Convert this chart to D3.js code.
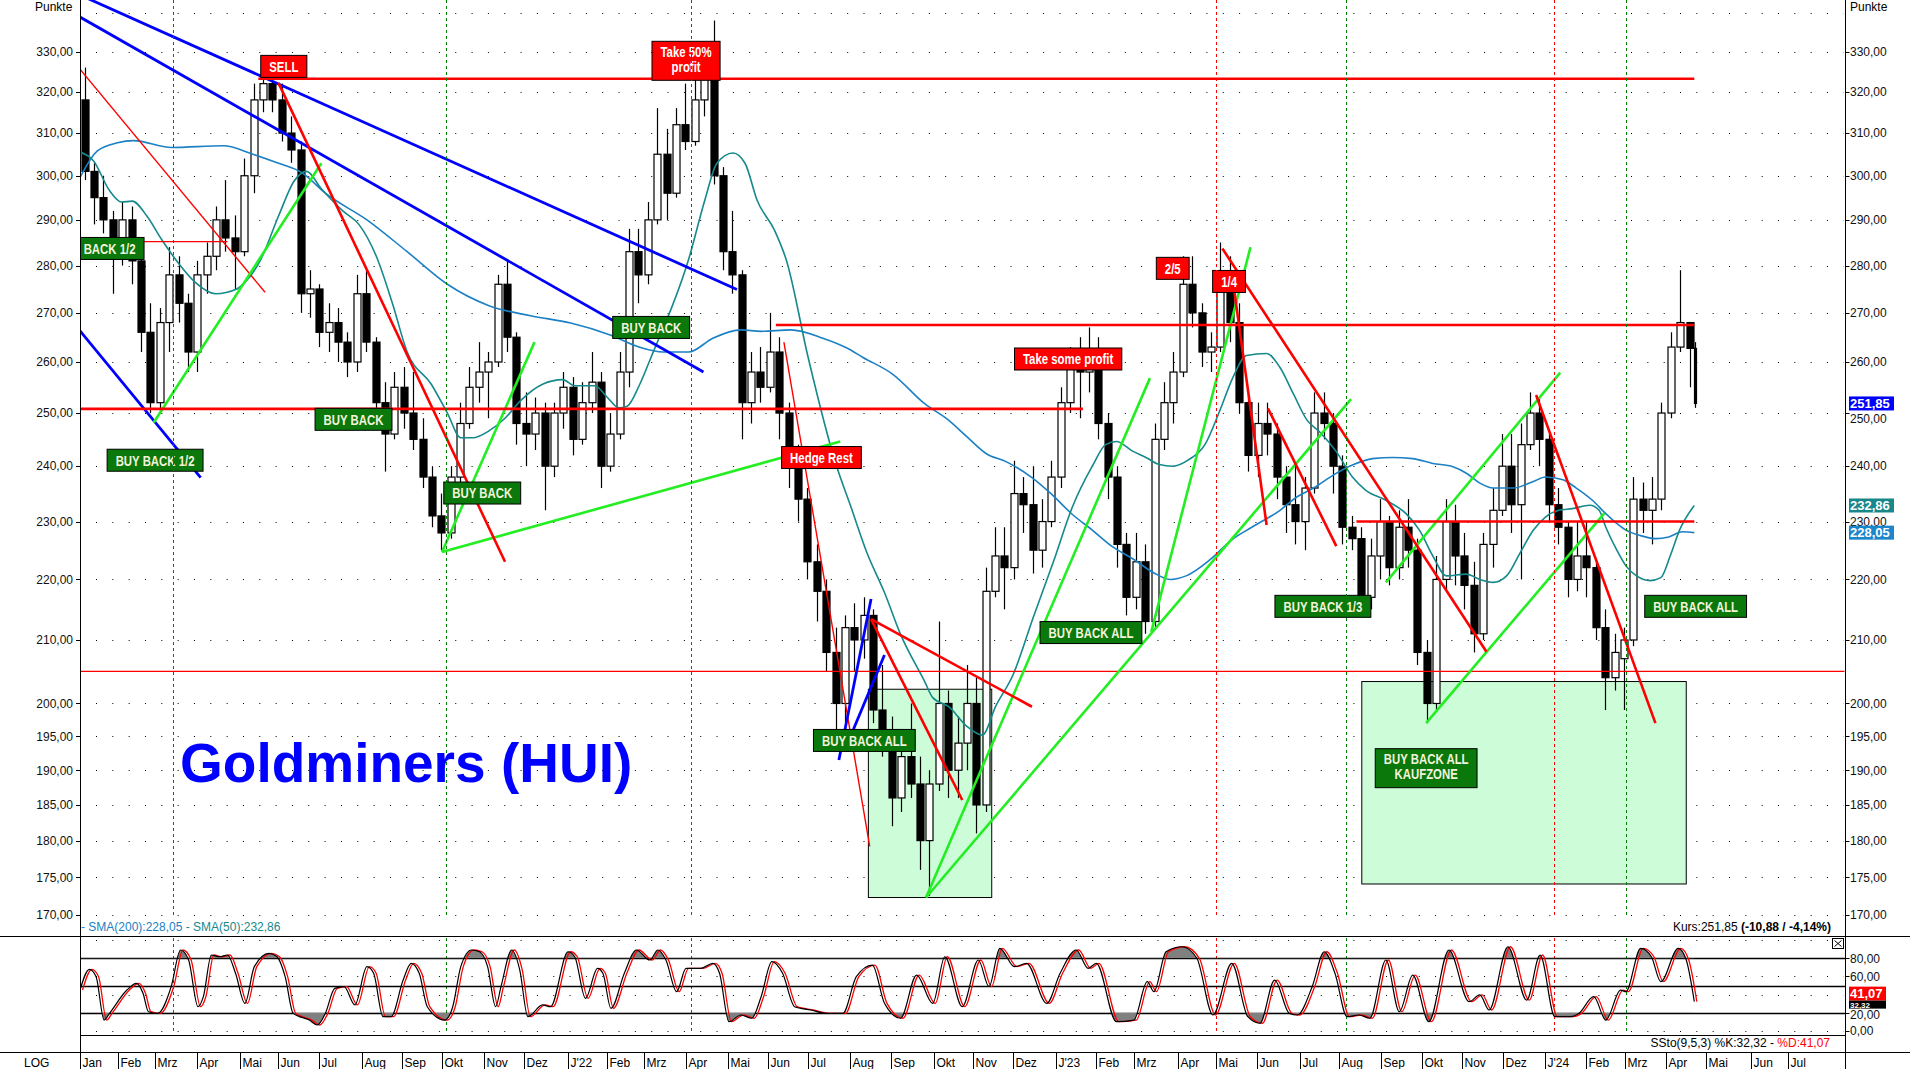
<!DOCTYPE html>
<html><head><meta charset="utf-8">
<script src="https://cdn.jsdelivr.net/npm/d3@7"></script>
<style>
html,body{margin:0;padding:0;background:#fff;overflow:hidden;}
svg{display:block;}
text{font-family:"Liberation Sans",Arial,Helvetica,sans-serif;}
</style></head><body>
<svg id="c" width="1910" height="1069"></svg>
<script>
// ---------------- DATA ----------------
// weekly candles: [week start, open, high, low, close]
const candles = [
["2021-01-04",318,326,299,301],["2021-01-11",301,303,289,295],["2021-01-18",295,300,287,290],["2021-01-25",290,292,274,282],
["2021-02-01",282,294,280,290],["2021-02-08",290,293,276,281],["2021-02-15",281,283,262,266],["2021-02-22",266,272,250,252],
["2021-03-01",252,271,250,268],["2021-03-08",268,284,262,278],["2021-03-15",278,282,268,272],["2021-03-22",272,274,258,262],
["2021-03-29",262,281,258,278],["2021-04-05",278,285,274,282],["2021-04-12",282,293,279,290],["2021-04-19",290,299,283,286],
["2021-04-26",286,291,275,283],["2021-05-03",283,304,282,300],["2021-05-10",300,322,296,318],["2021-05-17",318,325,315,322],
["2021-05-24",322,324,315,318],["2021-05-31",318,322,308,310],["2021-06-07",310,314,303,306],["2021-06-14",306,308,270,274],
["2021-06-21",274,279,269,275],["2021-06-28",275,276,263,266],["2021-07-05",266,272,262,268],["2021-07-12",268,271,260,264],
["2021-07-19",264,266,257,260],["2021-07-26",260,278,258,274],["2021-08-02",274,279,262,264],["2021-08-09",264,265,249,252],
["2021-08-16",252,256,239,246],["2021-08-23",246,258,245,255],["2021-08-30",255,259,247,250],["2021-09-06",250,258,243,245],
["2021-09-13",245,249,236,238],["2021-09-20",238,240,229,231],["2021-09-27",231,235,225,228],["2021-10-04",228,240,227,238],
["2021-10-11",238,252,236,248],["2021-10-18",248,259,247,255],["2021-10-25",255,264,252,258],["2021-11-01",258,262,249,260],
["2021-11-08",260,278,259,276],["2021-11-15",276,281,262,265],["2021-11-22",265,266,244,248],["2021-11-29",248,254,240,246],
["2021-12-06",246,253,243,250],["2021-12-13",250,252,232,240],["2021-12-20",240,252,238,250],["2021-12-27",250,258,247,255],
["2022-01-03",255,257,242,245],["2022-01-10",245,256,244,252],["2022-01-17",252,262,250,256],["2022-01-24",256,258,236,240],
["2022-01-31",240,250,239,246],["2022-02-07",246,262,245,258],["2022-02-14",258,288,255,283],["2022-02-21",283,288,272,278],
["2022-02-28",278,294,276,290],["2022-03-07",290,316,289,305],["2022-03-14",305,311,290,296],["2022-03-21",296,316,295,312],
["2022-03-28",312,322,306,308],["2022-04-04",308,323,307,318],["2022-04-11",318,330,314,326],["2022-04-18",326,338,298,300],
["2022-04-25",300,302,279,283],["2022-05-02",283,292,274,278],["2022-05-09",278,279,245,252],["2022-05-16",252,262,248,258],
["2022-05-23",258,263,252,255],["2022-05-30",255,270,254,262],["2022-06-06",262,265,245,250],["2022-06-13",250,252,236,240],
["2022-06-20",240,244,230,234],["2022-06-27",234,236,220,223],["2022-07-04",223,226,213,218],["2022-07-11",218,220,205,208],
["2022-07-18",208,212,196,200],["2022-07-25",200,214,197,212],["2022-08-01",212,216,205,210],["2022-08-08",210,217,207,214],
["2022-08-15",214,215,197,199],["2022-08-22",199,206,192,196],["2022-08-29",196,198,182,186],["2022-09-05",186,195,184,192],
["2022-09-12",192,200,186,188],["2022-09-19",188,192,176,180],["2022-09-26",180,190,172.5,188],["2022-10-03",188,213,187,200],
["2022-10-10",200,202,186,190],["2022-10-17",190,198,186,194],["2022-10-24",194,206,190,200],["2022-10-31",200,204,181,185],
["2022-11-07",185,222,184,218],["2022-11-14",218,229,217,224],["2022-11-21",224,229,215,222],["2022-11-28",222,241,220,235],
["2022-12-05",235,238,228,233],["2022-12-12",233,240,221,225],["2022-12-19",225,234,222,230],["2022-12-26",230,241,229,238],
["2023-01-02",238,255,236,252],["2023-01-09",252,263,250,260],["2023-01-16",260,265,249,258],["2023-01-23",258,267,254,262],
["2023-01-30",262,265,245,248],["2023-02-06",248,250,234,238],["2023-02-13",238,240,222,226],["2023-02-20",226,228,214,217],
["2023-02-27",217,228,215,223],["2023-03-06",223,226,211,213],["2023-03-13",213,248,212,245],["2023-03-20",245,256,243,252],
["2023-03-27",252,262,248,258],["2023-04-03",258,282,257,276],["2023-04-10",276,282,267,270],["2023-04-17",270,272,259,262],
["2023-04-24",262,266,258,263],["2023-05-01",263,285,262,278],["2023-05-08",278,282,264,268],["2023-05-15",268,272,250,252],
["2023-05-22",252,254,239,242],["2023-05-29",242,252,238,248],["2023-06-05",248,252,242,246],["2023-06-12",246,248,234,238],
["2023-06-19",238,240,228,233],["2023-06-26",233,240,226,230],["2023-07-03",230,238,225,236],["2023-07-10",236,254,235,250],
["2023-07-17",250,254,245,248],["2023-07-24",248,250,235,240],["2023-07-31",240,242,226,229],["2023-08-07",229,231,225,227],
["2023-08-14",227,229,214,217],["2023-08-21",217,227,215,224],["2023-08-28",224,234,220,230],["2023-09-04",230,231,219,222],
["2023-09-11",222,232,220,229],["2023-09-18",229,234,222,225],["2023-09-25",225,227,206,208],["2023-10-02",208,210,197,200],
["2023-10-09",200,224,199,220],["2023-10-16",220,234,218,230],["2023-10-23",230,233,219,224],["2023-10-30",224,228,215,219],
["2023-11-06",219,223,208,211],["2023-11-13",211,228,210,226],["2023-11-20",226,236,222,232],["2023-11-27",232,246,231,240],
["2023-12-04",240,246,228,233],["2023-12-11",233,248,220,244],["2023-12-18",244,254,243,250],["2023-12-25",250,253,240,245],
["2024-01-01",245,246,230,233],["2024-01-08",233,236,226,229],["2024-01-15",229,230,217,220],["2024-01-22",220,230,218,224],
["2024-01-29",224,230,217,222],["2024-02-05",222,223,210,212],["2024-02-12",212,215,199,204],["2024-02-19",204,211,202,208],
["2024-02-26",207,212,199,210],["2024-03-04",210,238,209,234],["2024-03-11",234,237,228,232],["2024-03-18",232,238,226,234],
["2024-03-25",234,252,232,250],["2024-04-01",250,266,249,263],["2024-04-08",263,279,262,268],["2024-04-15",268,268,255,262.73],
["2024-04-22",262.73,264,251,251.85]
];

const sma50 = [
["2021-01-04",305.5],["2021-01-14",303.5],["2021-01-26",296.6],["2021-02-04",294],["2021-02-12",294.2],["2021-02-23",290.8],
["2021-03-06",285.6],["2021-03-19",280.3],["2021-03-31",276.4],["2021-04-15",274],["2021-05-01",275],["2021-05-07",276.4],
["2021-05-19",281.4],["2021-06-01",290.8],["2021-06-13",298.9],["2021-06-22",301],["2021-07-03",297],["2021-07-19",292],
["2021-07-31",289],["2021-08-13",282],["2021-08-25",272],["2021-09-05",262],["2021-09-23",255.6],["2021-10-05",250],
["2021-10-15",245.3],["2021-10-24",245.3],["2021-11-05",246.6],["2021-11-17",249],["2021-11-29",252.5],["2021-12-15",255.6],
["2021-12-30",256.5],["2022-01-08",255.3],["2022-01-23",255.3],["2022-02-01",253.1],["2022-02-10",251],["2022-02-16",251.3],
["2022-02-25",255.3],["2022-03-06",261],["2022-04-03",281.4],["2022-04-15",294.4],["2022-04-24",302.9],["2022-05-06",305.3],
["2022-05-15",302.9],["2022-05-24",294.4],["2022-06-06",287.7],["2022-06-15",281],["2022-07-01",261],["2022-07-22",240.2],
["2022-08-02",232.6],["2022-08-14",224.5],["2022-08-27",217.8],["2022-09-08",210.9],["2022-09-26",203.4],["2022-10-02",200.9],
["2022-10-14",199.5],["2022-10-27",196.6],["2022-11-08",195.2],["2022-11-18",199.6],["2022-12-01",204.5],["2022-12-16",213.7],
["2022-12-31",223],["2023-01-14",232.5],["2023-01-29",240],["2023-02-08",244],["2023-02-16",244.6],["2023-02-28",242.8],
["2023-03-10",241.6],["2023-03-20",240.3],["2023-03-30",240],["2023-04-11",241.2],["2023-04-23",244],["2023-05-04",250.4],
["2023-05-14",257],["2023-05-24",261.3],["2023-06-08",261.7],["2023-06-18",258.9],["2023-06-28",253.7],["2023-07-08",248.7],
["2023-07-18",246.3],["2023-07-30",242.7],["2023-08-11",238],["2023-08-21",235.6],["2023-09-05",233.8],["2023-09-20",231.4],
["2023-09-30",228.5],["2023-10-10",224],["2023-10-20",220.6],["2023-11-04",220.9],["2023-11-14",220],["2023-11-24",219.5],
["2023-12-04",220.6],["2023-12-14",224.5],["2023-12-24",228.5],["2024-01-02",230.8],["2024-01-12",232],["2024-01-22",232.3],
["2024-02-04",232.9],["2024-02-11",232],["2024-02-16",229],["2024-02-24",225.1],["2024-03-02",222.3],["2024-03-10",220.6],
["2024-03-20",219.8],["2024-03-28",220.3],["2024-04-04",224],["2024-04-11",228.5],["2024-04-22",232.86]
];

const sma200 = [
["2021-01-04",299.6],["2021-01-17",305.8],["2021-02-01",307.7],["2021-02-13",308.2],["2021-03-13",306.6],["2021-04-21",307],
["2021-05-13",305],["2021-05-31",303],["2021-06-19",300.6],["2021-07-06",296],["2021-08-06",290],["2021-09-05",283],
["2021-10-05",276],["2021-11-05",271.5],["2021-12-06",269.4],["2022-01-05",267.9],["2022-02-04",265.4],["2022-02-25",263],
["2022-03-15",262],["2022-04-03",262],["2022-04-21",264.8],["2022-05-12",266.5],["2022-05-27",266.2],["2022-06-18",266.5],
["2022-07-12",264.8],["2022-07-30",262.8],["2022-08-11",260.9],["2022-09-02",257.6],["2022-09-26",251.8],["2022-10-14",248.6],
["2022-10-27",245.6],["2022-11-11",242.3],["2022-11-26",240.8],["2022-12-15",237.9],["2022-12-30",234.8],["2023-01-14",231.3],
["2023-01-29",228.5],["2023-02-13",225.6],["2023-03-01",223.4],["2023-03-16",221.1],["2023-03-28",220],["2023-04-09",220.6],
["2023-04-27",223.4],["2023-05-13",226.8],["2023-05-28",229],["2023-06-18",232],["2023-06-30",234.3],["2023-07-13",236],
["2023-07-28",238.4],["2023-08-11",240.2],["2023-08-26",241.4],["2023-09-10",241.6],["2023-09-25",241.4],["2023-10-10",240.5],
["2023-10-25",239.9],["2023-11-04",238.7],["2023-11-14",236.9],["2023-11-24",236],["2023-12-09",236],["2023-12-24",237.2],
["2024-01-02",238],["2024-01-15",237.5],["2024-01-25",236],["2024-02-06",233.8],["2024-02-16",231.4],["2024-02-23",229.9],
["2024-03-02",228.5],["2024-03-12",227.6],["2024-03-24",227],["2024-04-03",227.3],["2024-04-13",228.2],["2024-04-22",228.05]
];

// Slow stochastic %K (9,5,3)
const stochK = [
["2021-01-04",45],["2021-01-11",67.8],["2021-01-16",59.7],["2021-01-22",12],["2021-01-26",19.4],["2021-02-08",45],
["2021-02-15",52.4],["2021-02-20",41.4],["2021-02-24",21.2],["2021-03-03",19.4],["2021-03-13",48.7],["2021-03-20",89],
["2021-03-26",78],["2021-04-02",26.7],["2021-04-06",37.7],["2021-04-12",83.5],["2021-04-18",81.6],["2021-04-24",83.5],
["2021-04-30",63.4],["2021-05-07",30.4],["2021-05-14",70.7],["2021-05-25",85.4],["2021-05-31",81.6],["2021-06-06",59.7],
["2021-06-12",19.4],["2021-06-24",12],["2021-06-30",6.6],["2021-07-06",19.4],["2021-07-13",46.9],["2021-07-20",48.7],
["2021-07-28",28.6],["2021-08-06",70.7],["2021-08-11",63.4],["2021-08-18",15.7],["2021-08-24",15.7],["2021-09-02",56],
["2021-09-08",74.4],["2021-09-14",63.4],["2021-09-20",26.7],["2021-10-03",12],["2021-10-09",26.7],["2021-10-15",70.7],
["2021-10-23",89],["2021-10-29",87.1],["2021-11-04",70.7],["2021-11-10",26.7],["2021-11-14",48.7],["2021-11-22",89],
["2021-11-28",67],["2021-12-04",15.7],["2021-12-15",28.6],["2021-12-21",26.7],["2022-01-03",87.1],["2022-01-08",81.6],
["2022-01-16",35.9],["2022-01-25",68.9],["2022-01-29",63.4],["2022-02-04",24.9],["2022-02-14",63.4],["2022-02-23",89],
["2022-03-05",78],["2022-03-11",89],["2022-03-17",78],["2022-03-25",43.2],["2022-04-01",68.9],["2022-04-12",68.9],
["2022-04-21",74.4],["2022-04-26",63.4],["2022-05-03",10.2],["2022-05-12",17.6],["2022-05-20",14],["2022-05-27",37.7],
["2022-06-04",76.2],["2022-06-12",63.4],["2022-06-21",26.7],["2022-07-03",23.1],["2022-07-15",19.4],["2022-07-27",19.4],
["2022-08-06",59.7],["2022-08-18",72.5],["2022-08-27",30.4],["2022-09-08",14],["2022-09-20",61.5],["2022-10-02",30.4],
["2022-10-11",81.6],["2022-10-24",26.7],["2022-11-05",78],["2022-11-13",48.7],["2022-11-21",90.9],["2022-12-02",70.7],
["2022-12-11",74.4],["2022-12-26",30.4],["2023-01-05",63.4],["2023-01-17",89],["2023-01-26",68.9],["2023-02-01",74.4],
["2023-02-16",10.2],["2023-03-01",12],["2023-03-11",54.2],["2023-03-16",43.2],["2023-03-25",87.1],["2023-04-06",92.6],
["2023-04-17",79.9],["2023-04-29",17.6],["2023-05-13",74.4],["2023-05-25",15.7],["2023-06-03",8.5],["2023-06-14",56],
["2023-06-25",19.4],["2023-07-01",17.6],["2023-07-12",48.7],["2023-07-21",87.1],["2023-07-29",63.4],["2023-08-07",15.7],
["2023-08-16",17.6],["2023-08-24",14],["2023-09-05",78],["2023-09-15",21.2],["2023-09-25",61.5],["2023-10-07",10.2],
["2023-10-22",89],["2023-11-06",32.2],["2023-11-14",39.6],["2023-11-21",23.1],["2023-12-05",92.6],["2023-12-19",34],
["2023-12-29",83.5],["2024-01-09",15.7],["2024-01-21",15.7],["2024-01-27",19.4],["2024-02-07",37.7],["2024-02-16",12],
["2024-02-27",45],["2024-03-02",43.2],["2024-03-13",90.9],["2024-03-21",81.6],["2024-03-28",54.2],["2024-04-10",90.9],
["2024-04-16",78],["2024-04-22",32.32]
];

// axis tick values / labels
const priceTicks = [330,320,310,300,290,280,270,260,250,240,230,220,210,200,195,190,185,180,175,170];
const priceGrid = [340].concat(priceTicks);
const stochTicks = [80,60,20,0];
const stochGrid = [100,60,40,0];
const stochLevels = [80,50,20];
const monthNames = ["Jan","Feb","Mrz","Apr","Mai","Jun","Jul","Aug","Sep","Okt","Nov","Dez"];

// drawn annotations: [date1, price1, date2, price2]
const blueLines = [
["2021-01-04",344.7,"2022-05-09",274.9],["2021-01-04",338.9,"2022-04-14",258.0],["2021-01-04",266.3,"2021-04-04",237.9],
["2022-07-24",191.5,"2022-08-17",216.7],["2022-08-01",194.7,"2022-08-27",207.6]
];
const redLines = [
["2021-05-17",323.2,"2024-04-22",323.2],["2021-06-01",322.2,"2021-11-17",223.0],["2021-01-04",250.8,"2023-01-22",250.8],
["2022-06-07",267.5,"2024-04-22",267.5],["2022-08-17",213.4,"2022-12-15",199.5],["2022-08-17",213.4,"2022-10-24",185.7],
["2023-05-06",283.7,"2023-11-19",208.1],["2023-05-15",274.4,"2023-06-08",229.4],["2023-06-09",250.9,"2023-07-30",225.7],
["2023-12-26",253.5,"2024-03-24",197.0],["2023-08-14",230,"2024-04-22",230]
];
const redThinLines = [
["2021-01-04",325.6,"2021-05-22",274.3],["2021-02-20",285.2,"2021-04-24",285.2],["2022-06-13",264.0,"2022-08-16",179.2],
["2021-01-04",205.0,"2024-08-12",205.0]
];
const greenLines = [
["2021-02-28",248.2,"2021-07-03",302.9],["2021-10-01",224.7,"2021-12-09",264],["2021-10-01",224.7,"2022-07-25",244.6],
["2022-09-27",172.3,"2023-03-13",256.8],["2022-09-27",172.3,"2023-08-10",252.7],["2023-03-14",211.3,"2023-05-27",284.0],
["2023-09-05",219.5,"2024-01-13",257.9],["2023-10-05",197.0,"2024-02-15",231.5]
];
const zones = [["2022-08-15",172.3,"2022-11-15",202.2],["2023-08-18",174.1,"2024-04-16",203.4]];
const greenVLines = ["2021-03-14","2021-10-04","2023-08-06","2024-03-02"];
const redVLines = ["2022-04-05","2023-05-01","2024-01-08"];
const greenLabels = [
["2021-01-16",283.7,"BUY BACK 1/2"],["2021-03-01",241.1,"BUY BACK 1/2"],["2021-07-27",248.8,"BUY BACK"],
["2021-10-31",235.1,"BUY BACK"],["2022-03-06",267.0,"BUY BACK"],["2022-08-12",194.4,"BUY BACK ALL"],
["2023-01-28",211.2,"BUY BACK ALL"],["2023-07-20",215.5,"BUY BACK 1/3"],["2023-10-05",190.3,"BUY BACK ALL|KAUFZONE"],
["2024-04-23",215.5,"BUY BACK ALL"]
];
const redLabels = [
["2021-06-05",326.3,"SELL"],["2022-04-01",327.7,"Take 50%|profit"],["2022-07-11",241.6,"Hedge Rest"],
["2023-01-11",260.6,"Take some profit"],["2023-03-30",279.4,"2/5"],["2023-05-11",276.6,"1/4"]
];
const lastClose = 251.85, lastSma200 = 228.05, lastSma50 = 232.86, lastK = 32.32, lastD = 41.07;

// ---------------- CHART ----------------
const parse = d3.utcParse("%Y-%m-%d");
const svg = d3.select("#c");
const W = 1910, H = 1069;
const L = 80, R = 1845.5, PB = 936, OT = 936, OB = 1035.5, AX = 1052.5;

const x = d3.scaleUtc().domain([parse("2021-01-04"), parse("2024-04-22")]).range([80, 1694.3]);
const y = d3.scaleLog().domain([170, 330]).range([915, 51.7]);
const yo = d3.scaleLinear().domain([0, 100]).range([1031, 940]);
const fmt = v => d3.format(".2f")(v).replace(".", ",");
const X = d => x(parse(d));

svg.append("rect").attr("width",W).attr("height",H).attr("fill","#fff");
const defs = svg.append("defs");
defs.append("clipPath").attr("id","cp").append("rect").attr("x",L).attr("y",0).attr("width",R-L).attr("height",PB);
defs.append("clipPath").attr("id","co").append("rect").attr("x",L).attr("y",OT).attr("width",R-L).attr("height",OB-OT);
defs.append("clipPath").attr("id","cHi").append("rect").attr("x",L).attr("y",OT).attr("width",R-L).attr("height",yo(80)-OT);
defs.append("clipPath").attr("id","cLo").append("rect").attr("x",L).attr("y",yo(20)).attr("width",R-L).attr("height",OB-yo(20));

// grid dots
const grid = svg.append("g");
priceGrid.forEach(v => {
  const yy = Math.round(y(v)) + 0.5;
  grid.append("line").attr("x1",96).attr("x2",R-2).attr("y1",yy).attr("y2",yy)
    .attr("stroke","#000").attr("stroke-dasharray","1,15.33");
});
stochGrid.forEach(v => {
  const yy = Math.round(yo(v)) + 0.5;
  grid.append("line").attr("x1",96).attr("x2",R-2).attr("y1",yy).attr("y2",yy)
    .attr("stroke","#000").attr("stroke-dasharray","1,15.33");
});

// price panel
const P = svg.append("g").attr("clip-path","url(#cp)");
zones.forEach(([d1,p1,d2,p2]) => {
  P.append("rect").attr("x",X(d1)).attr("y",y(p2)).attr("width",X(d2)-X(d1)).attr("height",y(p1)-y(p2))
    .attr("fill","#ccfdd8").attr("stroke","#000").attr("stroke-width",1);
});
function vlines(list, color){
  list.forEach(d => {
    const xx = Math.round(X(d)) + 0.5;
    svg.append("line").attr("x1",xx).attr("x2",xx).attr("y1",0).attr("y2",917)
      .attr("stroke",color).attr("stroke-dasharray","3,3");
    svg.append("line").attr("x1",xx).attr("x2",xx).attr("y1",938).attr("y2",1034)
      .attr("stroke",color).attr("stroke-dasharray","3,3");
  });
}
vlines(greenVLines, "#008000");
vlines(redVLines, "#ff0000");

// candles
const C = P.append("g");
candles.forEach((c, i) => {
  const [d,o,h,l,cl] = c;
  const last = i === candles.length - 1;
  const dt = parse(d);
  const cx = Math.round(last ? x(dt) + 1 : x(d3.utcHour.offset(dt, 84))) + 0.5;
  const bw = last ? 2 : 7;
  C.append("line").attr("x1",cx).attr("x2",cx).attr("y1",y(h)).attr("y2",y(l)).attr("stroke","#000").attr("stroke-width",1.2);
  const top = y(Math.max(o,cl)), bot = y(Math.min(o,cl));
  C.append("rect").attr("x",cx-bw/2).attr("y",top).attr("width",bw).attr("height",Math.max(1,bot-top))
    .attr("fill", cl >= o ? "#fff" : "#000").attr("stroke","#000").attr("stroke-width",1.2);
});

// moving averages
const maLine = d3.line().x(d => X(d[0])).y(d => y(d[1])).curve(d3.curveMonotoneX);
P.append("path").attr("d",maLine(sma200)).attr("fill","none").attr("stroke","#1b80c4").attr("stroke-width",1.6);
P.append("path").attr("d",maLine(sma50)).attr("fill","none").attr("stroke","#15898c").attr("stroke-width",1.6);

// trend lines
function tlines(list, color, w){
  list.forEach(([d1,p1,d2,p2]) => {
    P.append("line").attr("x1",X(d1)).attr("y1",y(p1)).attr("x2",X(d2)).attr("y2",y(p2))
      .attr("stroke",color).attr("stroke-width",w);
  });
}
tlines(redThinLines, "#ff0000", 1.4);
tlines(blueLines, "#0000ff", 2.8);
tlines(greenLines, "#22ee22", 2.6);
tlines(redLines, "#ff0000", 2.6);

// labels
function labels(list, fill, txtColor){
  list.forEach(([d,p,t]) => {
    const lines = t.split("|");
    const g = P.append("g").attr("transform",`translate(${X(d)},${y(p)})`);
    const box = g.append("rect");
    const tg = g.append("g").attr("transform","scale(0.76,1)");
    let maxW = 0;
    lines.forEach((ln, k) => {
      const base = lines.length === 1 ? 5.3 : (k === 0 ? -4 : 11);
      const tx = tg.append("text").attr("x",0).attr("y",base).attr("text-anchor","middle")
        .attr("font-size",15).attr("font-weight","bold").attr("fill",txtColor).text(ln);
      maxW = Math.max(maxW, tx.node().getComputedTextLength() * 0.76);
    });
    const bwid = maxW + 17, bh = lines.length === 1 ? 22 : 39;
    box.attr("x",-bwid/2).attr("y",-bh/2).attr("width",bwid).attr("height",bh)
      .attr("fill",fill).attr("stroke","#000").attr("stroke-width",1);
  });
}
labels(greenLabels, "#0a780a", "#f3f3dc");
labels(redLabels, "#ff0000", "#ffffff");

// title
svg.append("text").attr("x",180).attr("y",782).attr("font-size",55).attr("font-weight","bold")
  .attr("fill","#0000ff").text("Goldminers (HUI)");

// stochastic panel
const O = svg.append("g").attr("clip-path","url(#co)");
stochLevels.forEach(v => {
  const yy = Math.round(yo(v)) + 0.5;
  O.append("line").attr("x1",L).attr("x2",R).attr("y1",yy).attr("y2",yy).attr("stroke","#000").attr("stroke-width",1.3);
});
const kx = d => X(d[0]), ky = d => yo(d[1]);
const aHi = d3.area().x(kx).y0(yo(80)).y1(ky).curve(d3.curveMonotoneX);
const aLo = d3.area().x(kx).y0(yo(20)).y1(ky).curve(d3.curveMonotoneX);
O.append("path").attr("d",aHi(stochK)).attr("fill","#808080").attr("clip-path","url(#cHi)");
O.append("path").attr("d",aLo(stochK)).attr("fill","#808080").attr("clip-path","url(#cLo)");
const kLine = d3.line().x(kx).y(ky).curve(d3.curveMonotoneX);
O.append("path").attr("d",kLine(stochK)).attr("fill","none").attr("stroke","#ff0000").attr("stroke-width",1.3)
  .attr("transform","translate(2.5,0)");
O.append("path").attr("d",kLine(stochK)).attr("fill","none").attr("stroke","#000").attr("stroke-width",1.2);

// frame lines
svg.append("line").attr("x1",0).attr("x2",W).attr("y1",PB+0.5).attr("y2",PB+0.5).attr("stroke","#000");
svg.append("line").attr("x1",L).attr("x2",R).attr("y1",OB).attr("y2",OB).attr("stroke","#000");
svg.append("line").attr("x1",0).attr("x2",W).attr("y1",AX).attr("y2",AX).attr("stroke","#000");
svg.append("line").attr("x1",L+0.5).attr("x2",L+0.5).attr("y1",0).attr("y2",H).attr("stroke","#000");
svg.append("line").attr("x1",R).attr("x2",R).attr("y1",0).attr("y2",H).attr("stroke","#000");

// price axes
priceTicks.forEach(v => {
  const yy = y(v);
  svg.append("line").attr("x1",76).attr("x2",L).attr("y1",Math.round(yy)+0.5).attr("y2",Math.round(yy)+0.5).attr("stroke","#000");
  svg.append("line").attr("x1",R).attr("x2",R+4).attr("y1",Math.round(yy)+0.5).attr("y2",Math.round(yy)+0.5).attr("stroke","#000");
  svg.append("text").attr("x",73).attr("y",yy+4.3).attr("text-anchor","end").attr("font-size",12).attr("fill","#111").text(fmt(v));
  // right-hand label sits partly under the last-price tag for 250
  const dy = (v === 250) ? 9.5 : 4.3;
  svg.append("text").attr("x",1850).attr("y",yy+dy).attr("font-size",12).attr("fill","#111").text(fmt(v));
});
svg.append("text").attr("x",35).attr("y",11).attr("font-size",12).text("Punkte");
svg.append("text").attr("x",1850).attr("y",11).attr("font-size",12).text("Punkte");

// stochastic axis
stochTicks.forEach(v => {
  const yy = yo(v);
  svg.append("line").attr("x1",R).attr("x2",R+4).attr("y1",Math.round(yy)+0.5).attr("y2",Math.round(yy)+0.5).attr("stroke","#000");
  const dy = (v === 20) ? 6.5 : 4.3;
  svg.append("text").attr("x",1850).attr("y",yy+dy).attr("font-size",12).attr("fill","#111").text(fmt(v));
});

// value tags
function tag(yTop, h, bg, txt, w, fs){
  svg.append("rect").attr("x",1849).attr("y",yTop).attr("width",w).attr("height",h).attr("fill",bg);
  svg.append("text").attr("x",1850).attr("y",yTop + h/2 + fs*0.36).attr("font-size",fs).attr("font-weight","bold")
    .attr("fill","#fff").text(txt);
}
tag(y(lastClose)-7, 14, "#0000ff", fmt(lastClose), 45, 13);
tag(y(lastSma50)-7, 14, "#17878a", fmt(lastSma50), 45, 13);
tag(y(lastSma200)-7, 14, "#1b86cc", fmt(lastSma200), 45, 13);
tag(yo(lastD)-7, 14, "#ff0000", fmt(lastD), 37, 13);
tag(yo(lastD)+7, 8, "#000000", fmt(lastK), 37, 8);

// legends
const lg = svg.append("text").attr("x",81).attr("y",931).attr("font-size",12);
lg.append("tspan").attr("fill","#1b80c4").text("- SMA(200):" + fmt(lastSma200));
lg.append("tspan").attr("fill","#15898c").text(" - SMA(50):" + fmt(lastSma50));
const kt = svg.append("text").attr("x",1831).attr("y",931).attr("font-size",12).attr("text-anchor","end");
kt.append("tspan").text("Kurs:" + fmt(lastClose) + " ");
kt.append("tspan").attr("font-weight","bold").text("(-10,88 / -4,14%)");
const st = svg.append("text").attr("x",1830).attr("y",1047).attr("font-size",12).attr("text-anchor","end");
st.append("tspan").text("SSto(9,5,3) %K:" + fmt(lastK) + " - ");
st.append("tspan").attr("fill","#ff0000").text("%D:" + fmt(lastD));
// close box
svg.append("rect").attr("x",1832.5).attr("y",938.5).attr("width",11).attr("height",10).attr("fill","#fff").attr("stroke","#000");
svg.append("path").attr("d","M1834.5,940.5L1841.5,946.5M1841.5,940.5L1834.5,946.5").attr("stroke","#000");

// time axis
const months = d3.utcMonths(parse("2021-01-01"), parse("2024-08-01"));
months.forEach(m => {
  let d = m;
  if (d.getUTCMonth() === 0) d = d3.utcDay.offset(d, 1);
  while (d.getUTCDay() === 0 || d.getUTCDay() === 6) d = d3.utcDay.offset(d, 1);
  const xx = Math.round(x(d)) + 0.5;
  const mi = m.getUTCMonth(), yr = m.getUTCFullYear();
  const lab = (mi === 0 && yr > 2021) ? "J'" + String(yr).slice(2) : monthNames[mi];
  if (xx > L + 1) svg.append("line").attr("x1",xx).attr("x2",xx).attr("y1",AX).attr("y2",H).attr("stroke","#000");
  svg.append("text").attr("x",xx+2).attr("y",1067).attr("font-size",12).text(lab);
});
svg.append("text").attr("x",24).attr("y",1067).attr("font-size",12).text("LOG");
</script></body></html>
